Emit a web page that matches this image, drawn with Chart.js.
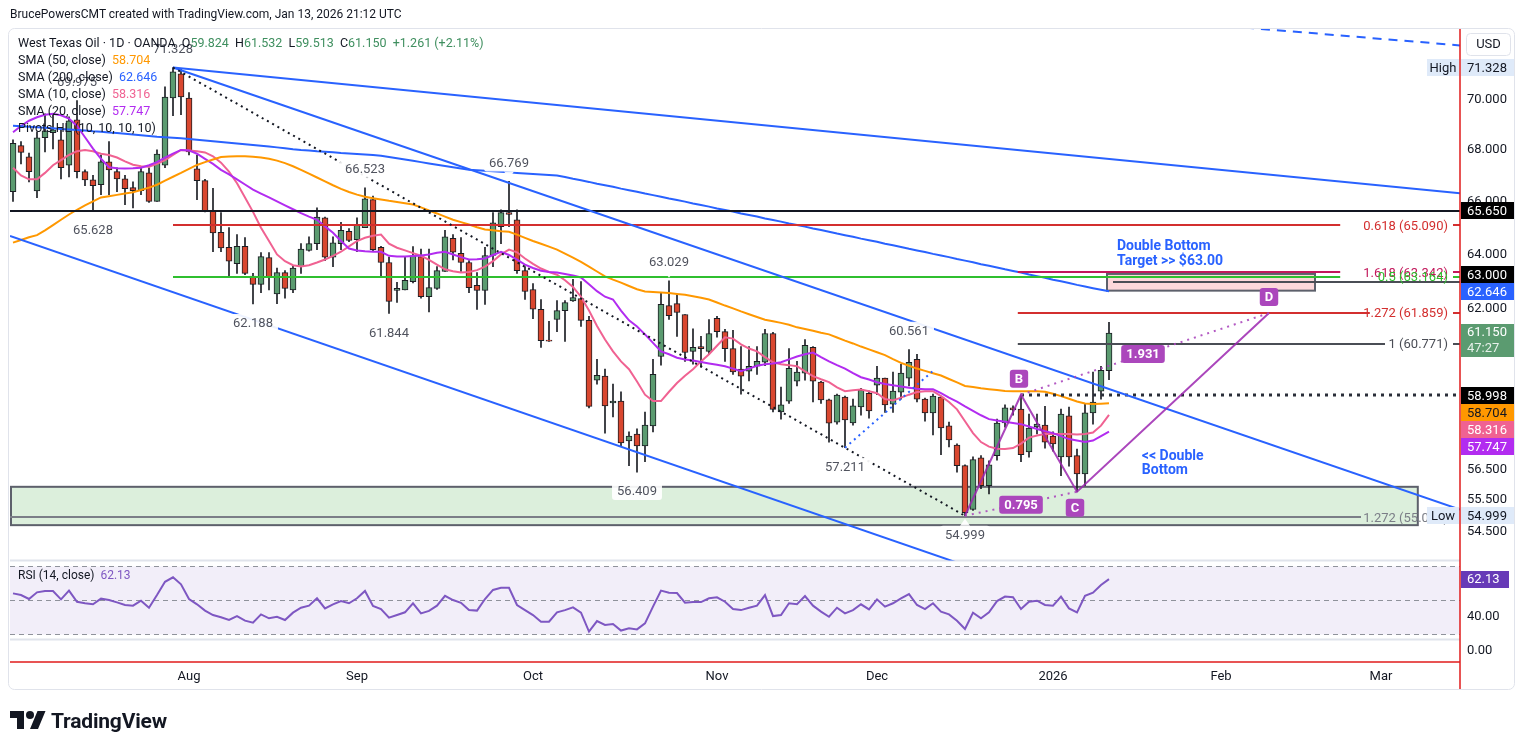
<!DOCTYPE html>
<html>
<head>
<meta charset="utf-8">
<title>West Texas Oil 1D</title>
<script src="https://cdn.jsdelivr.net/npm/chart.js@4.4.1/dist/chart.umd.min.js"></script>
<style>
  body { margin: 0; background: #fff; }
  #wrap { position: relative; width: 1520px; height: 750px; overflow: hidden; font-family: Roboto, "Noto Sans", sans-serif; color: #131722; }
  #chart { position: absolute; left: 0; top: 0; }
  .txt { position: absolute; white-space: nowrap; font-size: 12px; }
  #header { left: 10px; top: 7px; }
  #legend { left: 18px; top: 34px; line-height: 17px; font-size: 12.5px; }
  #rsiLegend { left: 18px; top: 568px; font-size: 12px; }
  #logo { left: 10px; top: 707px; font-size: 21px; font-weight: 700; display: flex; align-items: center; gap: 5px; letter-spacing: -0.2px; }
  .g { color: #3f8f5f; }
</style>
</head>
<body>
<div id="wrap">
  <canvas id="chart" width="1520" height="750"></canvas>
  <div class="txt" id="header">BrucePowersCMT created with TradingView.com, Jan 13, 2026 21:12 UTC</div>
  <div class="txt" id="legend">
    <div>West Texas Oil · 1D · OANDA &nbsp;O<span class="g">59.824</span>&nbsp; H<span class="g">61.532</span>&nbsp; L<span class="g">59.513</span>&nbsp; C<span class="g">61.150</span>&nbsp; <span class="g">+1.261 (+2.11%)</span></div>
    <div>SMA (50, close) &nbsp;<span style="color:#ff9800">58.704</span></div>
    <div>SMA (200, close) &nbsp;<span style="color:#2962ff">62.646</span></div>
    <div>SMA (10, close) &nbsp;<span style="color:#f06292">58.316</span></div>
    <div>SMA (20, close) &nbsp;<span style="color:#b22cf0">57.747</span></div>
    <div>Pivots HL (10, 10, 10, 10)</div>
  </div>
  <div class="txt" id="rsiLegend">RSI (14, close) &nbsp;<span style="color:#7e57c2">62.13</span></div>
  <div class="txt" id="logo">
    <svg width="36" height="28" viewBox="0 0 36 28"><path d="M14 22H7V11H0V4h14v18zM28 22h-8l7.5-18h8L28 22z" fill="#131722"/><circle cx="20" cy="8" r="4" fill="#131722"/></svg>
    <span>TradingView</span>
  </div>
</div>
<script>
// daily bars, Jul 2 2025 .. Jan 13 2026
var opens = [66.37,68.17,67.73,66.40,68.48,68.68,68.40,67.40,69.20,67.15,
  66.83,66.64,67.53,67.15,66.87,66.53,66.41,67.10,66.00,67.40,
  70.08,71.07,70.08,67.26,66.80,65.65,64.83,64.26,63.66,64.30,
  63.20,62.90,63.88,62.55,63.33,62.70,63.55,64.15,64.40,65.37,
  63.90,64.40,64.86,64.55,65.00,66.07,64.26,63.70,62.68,62.70,
  63.00,63.92,62.45,62.75,63.37,64.60,64.04,63.70,62.86,62.68,
  63.96,65.04,65.57,65.30,63.40,62.71,61.99,60.90,61.63,61.95,
  62.30,62.38,61.60,59.50,59.64,58.72,58.78,57.44,57.67,57.27,
  57.94,60.32,62.13,62.20,61.81,60.50,60.67,60.50,61.67,61.20,
  60.60,59.88,59.81,59.98,60.12,61.13,58.41,58.78,59.46,59.74,
  60.64,59.43,58.82,58.07,58.92,58.04,58.58,59.05,59.33,59.57,
  58.68,59.09,59.57,60.22,58.85,58.38,58.92,57.94,57.30,56.62,
  55.20,56.88,55.97,56.95,58.04,58.55,58.51,57.07,57.91,57.97,
  57.60,56.91,58.28,56.95,56.35,58.38,59.12,59.824];
var highs = [68.40,68.33,67.88,68.72,69.44,69.44,68.88,69.32,69.975,67.22,
  67.00,67.80,68.33,67.30,67.00,66.75,67.34,67.30,68.00,70.53,
  71.328,71.30,70.30,67.80,66.85,66.50,65.57,65.00,64.74,64.63,
  63.30,64.07,64.07,63.50,63.40,63.60,64.40,64.66,65.75,65.40,
  64.66,65.20,64.97,65.37,66.523,66.20,64.30,63.90,62.97,63.92,
  64.29,64.20,64.20,63.55,64.90,64.74,64.63,63.77,63.33,64.26,
  65.57,65.68,66.769,65.68,63.55,62.93,62.35,61.56,62.31,62.31,
  63.08,63.00,61.74,60.22,59.88,59.36,59.10,57.74,57.84,58.41,
  60.22,62.60,63.029,62.53,61.81,61.30,61.03,61.63,61.74,61.28,
  61.24,60.67,60.67,60.67,61.28,61.17,59.26,60.60,60.15,60.92,
  60.67,59.46,58.85,59.02,58.95,58.85,59.22,59.13,59.98,59.57,
  59.78,60.05,60.561,60.40,58.88,59.02,58.95,58.07,57.34,56.65,
  56.91,56.95,56.78,58.17,58.65,58.62,58.998,58.34,58.34,58.60,
  57.74,58.51,58.58,57.17,58.68,59.78,59.98,61.532];
var lows = [66.00,67.45,66.75,66.14,67.92,68.04,66.87,66.94,66.90,66.60,
  65.628,66.26,66.26,66.37,65.87,65.75,66.26,65.96,66.00,67.30,
  69.36,69.40,67.80,66.07,65.60,64.10,64.10,63.20,63.30,63.25,
  62.188,62.60,62.70,62.20,62.40,62.60,63.30,64.12,64.18,63.77,
  63.55,64.18,64.48,64.10,65.00,64.10,63.20,61.844,62.24,62.70,
  62.95,62.40,61.90,62.71,63.37,63.80,63.37,62.60,61.99,62.17,
  63.55,64.40,65.04,63.30,62.35,61.66,60.64,60.85,61.20,60.85,
  62.28,61.38,58.55,59.36,57.70,58.24,57.27,56.62,56.409,56.75,
  57.74,60.02,61.63,61.03,60.15,60.05,59.95,60.40,61.00,60.15,
  59.70,59.02,59.47,59.70,60.00,58.41,58.17,58.70,59.30,59.50,
  58.75,58.70,57.40,58.00,57.211,57.97,58.30,58.20,59.00,58.40,
  58.40,58.85,59.30,58.75,58.10,57.64,56.98,57.24,56.41,54.999,
  55.17,55.87,55.70,56.80,57.90,58.30,56.75,56.90,57.67,57.20,
  57.10,56.29,56.60,55.77,55.97,58.00,58.85,59.513];
var closes = [68.26,67.90,67.15,68.48,68.76,68.80,67.30,69.16,67.15,66.83,
  66.60,67.53,67.22,66.87,66.49,66.41,67.15,66.00,67.84,70.12,
  71.15,70.12,67.92,66.80,65.65,64.80,64.24,63.75,64.30,63.30,
  62.90,63.92,63.15,63.33,62.75,63.50,64.20,64.40,65.40,63.90,
  64.43,64.90,64.52,65.11,66.10,64.18,63.70,62.28,62.75,63.05,
  63.95,62.45,62.78,63.40,64.66,64.08,63.70,62.78,62.68,63.96,
  65.18,65.57,65.50,63.40,62.64,62.00,60.88,60.86,61.95,62.24,
  62.42,61.60,58.60,59.67,58.62,58.78,57.37,57.60,57.27,57.97,
  59.70,62.17,61.77,61.88,60.46,60.64,60.60,61.13,61.20,60.60,
  59.78,59.64,59.98,60.15,61.13,58.50,58.65,59.91,59.78,60.71,
  59.46,58.82,58.03,58.99,58.14,58.62,59.16,58.45,59.57,58.65,
  59.12,59.74,60.12,58.85,58.38,58.95,57.87,57.47,56.62,55.10,
  56.82,55.97,56.65,58.04,58.55,58.48,56.98,57.87,58.00,57.40,
  57.34,58.34,56.91,56.35,58.38,58.75,59.84,61.15];

var sma10 = [67.30,67.00,66.85,66.85,67.10,67.40,67.60,67.80,67.95,68.00,
  67.95,67.85,67.80,67.70,67.55,67.42,67.36,67.34,67.45,67.60,
  67.80,68.00,67.98,67.95,67.90,67.75,67.50,67.15,66.70,66.15,
  65.60,65.00,64.50,64.00,63.75,63.60,63.55,63.60,63.70,63.81,
  63.95,64.10,64.30,64.50,64.62,64.70,64.74,64.40,64.25,64.15,
  64.05,63.95,63.80,63.62,63.45,63.38,63.33,63.35,63.42,63.55,
  63.75,64.00,64.18,64.08,63.85,63.65,63.48,63.35,63.25,63.05,
  62.80,62.45,61.95,61.40,60.92,60.50,60.15,59.88,59.45,59.00,
  58.78,58.78,59.10,59.40,59.65,59.88,60.15,60.40,60.70,61.00,
  60.95,60.75,60.60,60.50,60.30,60.12,60.05,60.02,59.98,59.80,
  59.64,59.53,59.43,59.25,59.12,59.15,59.18,59.12,59.05,58.85,
  58.80,58.90,59.00,59.09,59.12,59.12,58.95,58.75,58.50,58.10,
  57.70,57.40,57.25,57.18,57.17,57.20,57.35,57.55,57.62,57.67,
  57.67,57.67,57.67,57.65,57.67,57.72,57.95,58.316];
var sma20 = [68.70,68.95,69.16,69.30,69.40,69.44,69.38,69.25,68.95,68.50,
  68.05,67.65,67.32,67.28,67.27,67.28,67.30,67.40,67.52,67.70,
  67.85,68.00,67.98,67.85,67.65,67.45,67.22,67.04,66.85,66.65,
  66.45,66.30,66.15,66.00,65.85,65.70,65.55,65.42,65.30,65.05,
  64.81,64.50,64.22,64.15,64.12,64.10,64.10,63.95,63.92,63.92,
  63.94,63.96,64.00,64.06,64.10,64.00,63.90,63.81,63.82,63.85,
  63.98,64.10,63.98,63.81,63.62,63.50,63.40,63.35,63.33,63.28,
  63.22,63.15,62.90,62.65,62.45,62.35,61.95,61.60,61.38,61.10,
  60.80,60.50,60.40,60.28,60.22,60.18,60.13,60.08,60.03,59.98,
  59.90,59.81,59.90,60.00,60.05,60.08,60.12,60.22,60.32,60.40,
  60.46,60.30,60.15,60.02,59.90,59.74,59.60,59.52,59.43,59.37,
  59.32,59.28,59.24,59.20,59.19,59.19,59.05,58.90,58.76,58.60,
  58.45,58.30,58.17,58.12,58.08,58.04,58.00,57.92,57.84,57.76,
  57.70,57.60,57.50,57.45,57.40,57.45,57.60,57.747];
var sma50 = [64.44,64.54,64.64,64.72,64.90,65.10,65.30,65.50,65.68,65.85,
  66.00,66.15,66.20,66.25,66.30,66.35,66.44,66.53,66.64,66.80,
  66.95,67.10,67.26,67.41,67.52,67.62,67.72,67.74,67.75,67.75,
  67.73,67.70,67.65,67.58,67.48,67.36,67.22,67.07,66.92,66.77,
  66.62,66.48,66.36,66.26,66.18,66.12,66.07,66.02,65.98,65.93,
  65.88,65.77,65.65,65.54,65.42,65.30,65.21,65.12,65.02,64.93,
  64.90,64.87,64.85,64.74,64.62,64.50,64.40,64.29,64.18,64.03,
  63.88,63.72,63.55,63.37,63.19,63.07,62.96,62.84,62.72,62.64,
  62.62,62.60,62.58,62.55,62.52,62.47,62.41,62.35,62.24,62.13,
  62.03,61.92,61.82,61.72,61.62,61.57,61.51,61.44,61.35,61.29,
  61.23,61.16,61.10,60.99,60.88,60.78,60.67,60.57,60.47,60.37,
  60.23,60.10,60.00,59.90,59.82,59.74,59.66,59.54,59.42,59.30,
  59.26,59.22,59.19,59.16,59.13,59.12,59.12,59.12,59.12,59.10,
  59.03,58.95,58.86,58.77,58.70,58.68,58.69,58.704];
var sma200 = [68.96,68.94,68.92,68.90,68.88,68.86,68.83,68.81,68.79,68.77,
  68.74,68.72,68.69,68.67,68.64,68.61,68.58,68.55,68.52,68.50,
  68.48,68.46,68.43,68.40,68.37,68.34,68.31,68.28,68.25,68.22,
  68.19,68.16,68.13,68.10,68.07,68.03,68.00,67.98,67.95,67.93,
  67.91,67.88,67.86,67.84,67.82,67.80,67.77,67.72,67.67,67.62,
  67.57,67.52,67.47,67.42,67.37,67.32,67.27,67.22,67.20,67.18,
  67.16,67.14,67.12,67.10,67.08,67.06,67.04,67.02,67.00,66.94,
  66.87,66.81,66.75,66.68,66.62,66.56,66.49,66.43,66.37,66.30,
  66.24,66.18,66.11,66.05,65.99,65.92,65.86,65.80,65.73,65.67,
  65.61,65.54,65.48,65.42,65.35,65.29,65.23,65.16,65.10,65.04,
  64.97,64.91,64.85,64.78,64.72,64.66,64.59,64.53,64.47,64.40,
  64.34,64.28,64.21,64.15,64.09,64.02,63.96,63.90,63.83,63.77,
  63.71,63.64,63.58,63.52,63.45,63.39,63.33,63.26,63.20,63.14,
  63.07,63.01,62.95,62.88,62.82,62.76,62.70,62.646];
var rsi = [53.8,52.8,50.5,54.4,55.2,55.2,50.3,55.4,48.9,48.0,
  47.4,50.7,49.9,48.5,47.0,46.6,49.5,45.4,52.8,60.6,
  63.2,59.1,50.5,47.4,43.7,41.1,39.8,38.2,40.5,37.8,
  36.6,41.5,39.2,40.1,38.2,42.5,45.4,46.6,50.9,45.0,
  47.4,49.3,48.0,50.9,55.2,46.4,44.6,39.6,41.1,42.7,
  48.0,42.1,43.5,46.6,52.4,49.9,48.3,44.0,43.7,50.5,
  55.8,57.1,57.1,47.0,44.0,41.1,37.2,37.2,42.7,44.0,
  45.6,42.5,31.4,37.6,35.3,35.9,32.0,33.3,32.7,36.2,
  46.0,55.4,54.2,54.0,48.3,48.7,48.7,50.9,51.5,48.9,
  44.6,44.0,45.4,46.6,52.8,40.5,41.1,48.0,47.4,52.2,
  46.6,43.1,40.1,45.4,42.1,44.0,47.4,44.4,50.3,46.0,
  48.0,50.9,53.4,47.0,44.6,48.0,43.1,41.5,37.8,32.9,
  42.5,39.2,42.7,49.3,51.9,51.5,44.6,48.9,49.5,47.0,
  46.6,51.9,45.0,42.7,52.4,54.2,58.7,62.13];

var priceTicks = [54.5, 55.5, 56.5, 62, 64, 66, 68, 70];
var rsiTicks = [40];
var monthNames = ['Jan','Feb','Mar','Apr','May','Jun','Jul','Aug','Sep','Oct','Nov','Dec'];
var holidays = ['2025-12-25', '2026-01-01'];

// trading-day calendar (bars plus future slots to early March)
var dates = [];
for (var d = new Date(Date.UTC(2025, 6, 2)); dates.length < 182; d.setUTCDate(d.getUTCDate() + 1)) {
  var iso = d.toISOString().slice(0, 10);
  if (d.getUTCDay() === 0 || d.getUTCDay() === 6 || holidays.indexOf(iso) >= 0) continue;
  dates.push(iso);
}
var monthStarts = [];
for (var i = 1; i < dates.length; i++) {
  if (dates[i].slice(5, 7) !== dates[i - 1].slice(5, 7)) monthStarts.push(i);
}
function monthLabel(i) {
  var m = parseInt(dates[i].slice(5, 7), 10);
  return m === 1 ? dates[i].slice(0, 4) : monthNames[m - 1];
}

var GREEN = '#5b9b70', RED = '#d9472f', EDGE = '#1b1e24';

function seg(ctx, x1, y1, x2, y2) { ctx.beginPath(); ctx.moveTo(x1, y1); ctx.lineTo(x2, y2); ctx.stroke(); }
function tag(ctx, cx, cy, text, bg) {
  ctx.font = 'bold 13px Roboto';
  var w = Math.max(16, ctx.measureText(text).width + 10);
  ctx.beginPath(); ctx.roundRect(cx - w / 2, cy - 9, w, 18, 3);
  ctx.fillStyle = bg; ctx.fill();
  ctx.fillStyle = '#fff'; ctx.textAlign = 'center'; ctx.textBaseline = 'middle';
  ctx.fillText(text, cx, cy + 1);
}
function axisBox(ctx, yc, text, bg, fg) {
  ctx.fillStyle = bg; ctx.fillRect(1461, Math.round(yc - 8.5), 54, 17);
  ctx.fillStyle = fg; ctx.font = '13px Roboto'; ctx.textAlign = 'left'; ctx.textBaseline = 'middle';
  ctx.fillText(text, 1467, yc + 1);
}

var deco = {
  id: 'deco',
  beforeDatasetsDraw: function (chart) {
    var ctx = chart.ctx, a = chart.chartArea, s = chart.scales;
    var X = function (v) { return s.x.getPixelForValue(v); };
    var Y = function (p) { return s.y.getPixelForValue(p); };
    var R = function (v) { return Math.round(s.yr.getPixelForValue(v)) + 0.5; };
    ctx.save();
    ctx.fillStyle = 'rgba(126,87,194,0.1)';
    ctx.fillRect(a.left, R(70), a.right - a.left, R(30) - R(70));
    ctx.strokeStyle = '#8f929b'; ctx.lineWidth = 1; ctx.setLineDash([5, 4]);
    [70, 50, 30].forEach(function (v) { seg(ctx, a.left, R(v), a.right, R(v)); });
    ctx.setLineDash([]);
    ctx.strokeStyle = '#e0e3eb'; ctx.lineWidth = 2;
    seg(ctx, a.left, s.y.bottom, a.right, s.y.bottom);
    seg(ctx, a.left, s.yr.bottom, a.right, s.yr.bottom);
    // support zone and target box
    ctx.lineWidth = 2; ctx.strokeStyle = '#5d606b';
    ctx.fillStyle = '#dcefdc';
    var zx = X(-0.375), zy = Y(55.93);
    ctx.fillRect(zx, zy, X(175.6) - zx, Y(54.70) - zy);
    ctx.strokeRect(zx + 1, zy, X(175.6) - zx - 1, Y(54.70) - zy);
    ctx.fillStyle = 'rgba(242,54,69,0.2)';
    var bx = X(136.75), by = Y(63.28);
    ctx.fillRect(bx, by, X(162.75) - bx, Y(62.67) - by);
    ctx.strokeRect(bx, by, X(162.75) - bx, Y(62.67) - by);
    ctx.restore();
  },
  afterDatasetsDraw: function (chart) {
    var ctx = chart.ctx, a = chart.chartArea, s = chart.scales;
    var X = function (v) { return s.x.getPixelForValue(v); };
    var Y = function (p) { return s.y.getPixelForValue(p); };
    ctx.save();
    ctx.beginPath(); ctx.rect(a.left, s.y.top, a.right - a.left, s.y.bottom - s.y.top); ctx.clip();

    var levels = [
      [-0.375, 180.875, 65.65, '#131722', 2, []],
      [20, 165.9, 65.09, '#d32f2f', 2, []],
      [125.6, 165.9, 63.342, '#c2185b', 2, []],
      [20, 165.9, 63.164, '#2fbf2f', 2, []],
      [125.6, 169.6, 61.859, '#d32f2f', 2, []],
      [125.6, 171.5, 60.771, '#4a4d55', 2, []],
      [137.5, 180.875, 63.0, '#4a4d55', 2, []],
      [126, 180.875, 58.998, '#2a2e39', 3, [3, 5]],
      [-0.375, 168.5, 54.95, '#7b7e87', 2, []]
    ];
    levels.forEach(function (l) {
      ctx.strokeStyle = l[3]; ctx.lineWidth = l[4]; ctx.setLineDash(l[5]);
      var yy = Math.round(Y(l[2]));
      seg(ctx, X(l[0]), yy, X(l[1]), yy);
    });
    ctx.setLineDash([]);

    var trend = [
      [20, 71.328, 180.875, 66.31, '#2962ff', 2, []],
      [20, 71.328, 180.875, 55.20, '#2962ff', 2, []],
      [-0.375, 64.69, 180.875, 48.4, '#2962ff', 2, []],
      [154, 73.0, 180.875, 72.25, '#2962ff', 2, [9, 7]],
      [20, 71.328, 119, 54.999, '#131722', 2, [2, 4]],
      [104, 57.211, 115.25, 59.88, '#2962ff', 2, [2, 4]]
    ];
    trend.forEach(function (t) {
      ctx.strokeStyle = t[4]; ctx.lineWidth = t[5]; ctx.setLineDash(t[6]);
      seg(ctx, X(t[0]), Y(t[1]), X(t[2]), Y(t[3]));
    });

    // X-B-C-D pattern
    var pX = [119, 54.999], pB = [126, 58.998], pC = [133, 55.77], pD = [157, 61.859];
    ctx.strokeStyle = 'rgba(156,39,176,0.85)'; ctx.lineWidth = 2; ctx.setLineDash([]);
    ctx.beginPath();
    ctx.moveTo(X(pX[0]), Y(pX[1])); ctx.lineTo(X(pB[0]), Y(pB[1]));
    ctx.lineTo(X(pC[0]), Y(pC[1])); ctx.lineTo(X(pD[0]), Y(pD[1]));
    ctx.stroke();
    ctx.setLineDash([2, 5]); ctx.strokeStyle = 'rgba(171,71,188,0.9)';
    seg(ctx, X(pX[0]), Y(pX[1]), X(pC[0]), Y(pC[1]));
    seg(ctx, X(pB[0]), Y(pB[1]), X(pD[0]), Y(pD[1]));
    ctx.setLineDash([]);
    tag(ctx, X(pB[0]) - 2, Y(pB[1]) - 16, 'B', '#ab47bc');
    tag(ctx, X(pC[0]) - 2, Y(pC[1]) + 16, 'C', '#ab47bc');
    tag(ctx, X(pD[0]), Y(pD[1]) - 16, 'D', '#ab47bc');
    tag(ctx, (X(pX[0]) + X(pC[0])) / 2, (Y(pX[1]) + Y(pC[1])) / 2 + 1, '0.795', '#ab47bc');
    tag(ctx, (X(pB[0]) + X(pD[0])) / 2 - 2, (Y(pB[1]) + Y(pD[1])) / 2, '1.931', '#ab47bc');

    // fib labels
    var fibs = [
      ['0.618 (65.090)', 65.09, '#d32f2f'],
      ['1.618 (63.342)', 63.342, '#c2185b'],
      ['0.5 (63.164)', 63.164, '#2fbf2f'],
      ['1.272 (61.859)', 61.859, '#d32f2f'],
      ['1 (60.771)', 60.771, '#4a4d55'],
      ['1.272 (55.019)', 54.95, '#7b7e87']
    ];
    ctx.font = '13px Roboto'; ctx.textAlign = 'right'; ctx.textBaseline = 'middle';
    fibs.forEach(function (f) { ctx.fillStyle = f[2]; ctx.fillText(f[0], 1448, Y(f[1]) + 1); });

    // pivot labels
    var pivots = [[20, 1], [8, 1], [10, 0], [44, 1], [30, 0], [47, 0], [62, 1], [82, 1], [78, 0], [112, 1], [104, 0], [119, 0]];
    pivots.forEach(function (p) {
      var v = p[1] ? highs[p[0]] : lows[p[0]];
      var px = X(p[0]), tip = Y(v) + (p[1] ? -3 : 3), cy = p[1] ? tip - 16 : tip + 16;
      var txt = v.toFixed(3);
      ctx.font = '13px Roboto';
      var w = ctx.measureText(txt).width + 10;
      ctx.fillStyle = 'rgba(255,255,255,0.92)';
      ctx.beginPath(); ctx.roundRect(px - w / 2, cy - 9, w, 18, 3); ctx.fill();
      ctx.beginPath(); ctx.moveTo(px - 5, p[1] ? cy + 9 : cy - 9); ctx.lineTo(px, tip); ctx.lineTo(px + 5, p[1] ? cy + 9 : cy - 9); ctx.fill();
      ctx.fillStyle = '#50535e'; ctx.textAlign = 'center'; ctx.textBaseline = 'middle';
      ctx.fillText(txt, px, cy + 1);
    });

    // notes
    ctx.fillStyle = '#2962ff'; ctx.font = 'bold 14px Roboto'; ctx.textAlign = 'left'; ctx.textBaseline = 'middle';
    ctx.fillText('Double Bottom', X(138), Y(64.28));
    ctx.fillText('Target >> $63.00', X(138), Y(64.28) + 15);
    ctx.fillText('<< Double', X(141.1), Y(56.92));
    ctx.fillText('Bottom', X(141.1), Y(56.92) + 14);
    ctx.restore();
  },
  afterDraw: function (chart) {
    var ctx = chart.ctx, a = chart.chartArea, s = chart.scales;
    var Y = function (p) { return s.y.getPixelForValue(p); };
    ctx.save();
    // level ticks at the axis edge
    [[65.09, '#d32f2f'], [63.342, '#c2185b'], [63.164, '#2fbf2f'], [61.859, '#d32f2f'], [60.771, '#4a4d55']].forEach(function (t) {
      ctx.strokeStyle = t[1]; ctx.lineWidth = 2; seg(ctx, a.right - 7, Math.round(Y(t[0])), a.right, Math.round(Y(t[0])));
    });
    // price scale labels
    ctx.fillStyle = '#dfeaf9'; ctx.fillRect(1427, Math.round(Y(71.328) - 8.5), 32, 17);
    ctx.fillStyle = '#131722'; ctx.font = '13px Roboto'; ctx.textAlign = 'center'; ctx.textBaseline = 'middle';
    ctx.fillText('High', 1443, Y(71.328) + 1);
    axisBox(ctx, Y(71.328), '71.328', '#dfeaf9', '#131722');
    axisBox(ctx, Y(65.65), '65.650', '#000', '#fff');
    axisBox(ctx, Y(63.0) - 7, '63.000', '#000', '#fff');
    axisBox(ctx, Y(62.646), '62.646', '#2962ff', '#fff');
    var gy = Math.round(Y(61.15) - 8.5);
    ctx.fillStyle = GREEN; ctx.fillRect(1461, gy, 54, 33);
    ctx.fillStyle = '#fff'; ctx.textAlign = 'left';
    ctx.fillText('61.150', 1467, gy + 9);
    ctx.fillStyle = 'rgba(255,255,255,0.85)'; ctx.fillText('47:27', 1467, gy + 25);
    axisBox(ctx, Y(58.998) + 1, '58.998', '#000', '#fff');
    axisBox(ctx, Y(58.998) + 18, '58.704', '#ff9800', '#131722');
    axisBox(ctx, Y(58.998) + 35, '58.316', '#f06292', '#fff');
    axisBox(ctx, Y(58.998) + 52, '57.747', '#b22cf0', '#fff');
    ctx.fillStyle = '#dfeaf9'; ctx.fillRect(1427, Math.round(Y(54.999) - 8.5), 32, 17);
    ctx.fillStyle = '#131722'; ctx.textAlign = 'center'; ctx.fillText('Low', 1443, Y(54.999) + 1);
    axisBox(ctx, Y(54.999), '54.999', '#dfeaf9', '#131722');
    ctx.font = '13px Roboto';
    var ry = s.yr.getPixelForValue(62.13);
    ctx.fillStyle = '#673ab7'; ctx.fillRect(1461, Math.round(ry - 8.5), 48, 17);
    ctx.fillStyle = '#fff'; ctx.textAlign = 'left'; ctx.fillText('62.13', 1467, ry + 1);
    // currency box
    ctx.beginPath(); ctx.roundRect(1466.5, 33.5, 44, 22, 4);
    ctx.fillStyle = '#fff'; ctx.fill(); ctx.strokeStyle = '#e0e3eb'; ctx.lineWidth = 1; ctx.stroke();
    ctx.fillStyle = '#131722'; ctx.textAlign = 'center'; ctx.fillText('USD', 1488.5, 45);
    // scale borders
    ctx.strokeStyle = '#e01b1b'; ctx.lineWidth = 1.5;
    seg(ctx, a.right, 28, a.right, 690);
    seg(ctx, a.left, a.bottom, a.right, a.bottom);
    // frame
    ctx.strokeStyle = '#e0e3eb'; ctx.lineWidth = 1;
    ctx.beginPath(); ctx.roundRect(8.5, 28.5, 1506, 661, 6); ctx.stroke();
    ctx.restore();
  }
};

var pts = function (arr) { return arr.map(function (v, i) { return { x: i, y: v }; }); };
var axisFont = { size: 13, family: 'Roboto' };

new Chart(document.getElementById('chart'), {
  type: 'bar',
  data: {
    datasets: [
      { type: 'line', label: 'SMA 200', data: pts(sma200), yAxisID: 'y', borderColor: '#2962ff', borderWidth: 2, pointRadius: 0, order: 0 },
      { type: 'line', label: 'SMA 50', data: pts(sma50), yAxisID: 'y', borderColor: '#ff9800', borderWidth: 2, pointRadius: 0, order: 0 },
      { type: 'line', label: 'SMA 20', data: pts(sma20), yAxisID: 'y', borderColor: '#b22cf0', borderWidth: 2, pointRadius: 0, order: 0 },
      { type: 'line', label: 'SMA 10', data: pts(sma10), yAxisID: 'y', borderColor: '#f06292', borderWidth: 2, pointRadius: 0, order: 0 },
      { type: 'line', label: 'RSI', data: pts(rsi), yAxisID: 'yr', borderColor: '#7e57c2', borderWidth: 2, pointRadius: 0, order: 0 },
      {
        label: 'body', yAxisID: 'y', order: 1, grouped: false, barThickness: 6,
        data: opens.map(function (o, i) { return { x: i, y: [Math.min(o, closes[i]), Math.max(o, closes[i])] }; }),
        backgroundColor: opens.map(function (o, i) { return closes[i] >= o ? GREEN : RED; }),
        borderColor: EDGE, borderWidth: 1, borderSkipped: false
      },
      {
        label: 'wick', yAxisID: 'y', order: 2, grouped: false, barThickness: 1,
        data: highs.map(function (h, i) { return { x: i, y: [lows[i], h] }; }),
        backgroundColor: EDGE
      }
    ]
  },
  options: {
    responsive: false, animation: false, events: [],
    layout: { padding: { left: 10, top: 29, right: 0, bottom: 60 } },
    plugins: { legend: { display: false }, tooltip: { enabled: false } },
    scales: {
      x: {
        type: 'linear', min: -0.375, max: 180.875, offset: false,
        grid: { display: false, drawTicks: false }, border: { display: false },
        afterBuildTicks: function (sc) { sc.ticks = monthStarts.map(function (v) { return { value: v }; }); },
        ticks: { autoSkip: false, maxRotation: 0, padding: 7, color: '#131722', font: axisFont, callback: function (v) { return monthLabel(v); } },
        afterFit: function (sc) { sc.height = 28; }
      },
      y: {
        type: 'logarithmic', position: 'right', stack: 'pane', stackWeight: 531.5, min: 53.59, max: 72.94,
        grid: { display: false, drawTicks: false }, border: { display: false },
        afterBuildTicks: function (sc) { sc.ticks = priceTicks.map(function (v) { return { value: v }; }); },
        ticks: { padding: 7, color: '#131722', font: axisFont, callback: function (v) { return v.toFixed(3); } },
        afterFit: function (sc) { sc.width = 60; }
      },
      yr: {
        type: 'linear', position: 'right', stack: 'pane', stackWeight: 79, min: 26.78, max: 73.05,
        grid: { display: false, drawTicks: false }, border: { display: false },
        afterBuildTicks: function (sc) { sc.ticks = rsiTicks.map(function (v) { return { value: v }; }); },
        ticks: { padding: 7, color: '#131722', font: axisFont, callback: function (v) { return v.toFixed(2); } },
        afterFit: function (sc) { sc.width = 60; }
      },
      ye: {
        type: 'linear', position: 'right', stack: 'pane', stackWeight: 22.5, min: -1, max: 1,
        grid: { display: false, drawTicks: false }, border: { display: false },
        afterBuildTicks: function (sc) { sc.ticks = [{ value: 0 }]; },
        ticks: { padding: 7, color: '#131722', font: axisFont, callback: function (v) { return v.toFixed(2); } },
        afterFit: function (sc) { sc.width = 60; }
      }
    }
  },
  plugins: [deco]
});
</script>
</body>
</html>
